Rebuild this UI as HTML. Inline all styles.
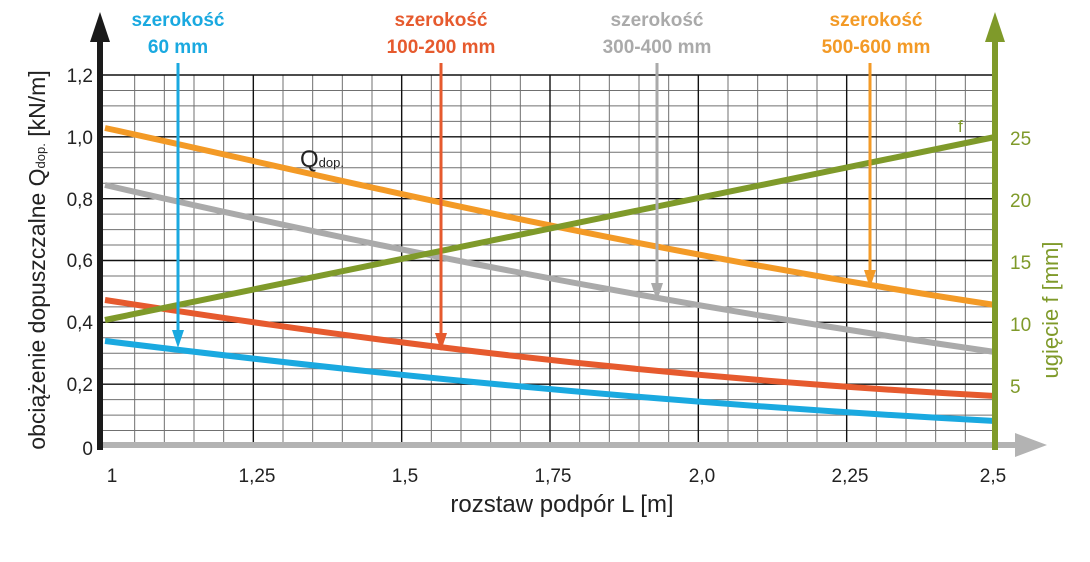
<!DOCTYPE html>
<html><head><meta charset="utf-8"><style>body{margin:0;background:#fff}svg{display:block}</style></head>
<body>
<svg width="1090" height="562" viewBox="0 0 1090 562" xmlns="http://www.w3.org/2000/svg" font-family="Liberation Sans, sans-serif">
<rect width="1090" height="562" fill="#fff"/>
<path stroke="#707070" stroke-width="1" fill="none" d="
M134.67,75V446 M164.33,75V446 M194,75V446 M223.67,75V446 M283,75V446 M312.67,75V446 M342.33,75V446 M372,75V446
M431.33,75V446 M461,75V446 M490.67,75V446 M520.33,75V446 M579.67,75V446 M609.33,75V446 M639,75V446 M668.67,75V446
M728,75V446 M757.67,75V446 M787.33,75V446 M817,75V446 M876.33,75V446 M906,75V446 M935.67,75V446 M965.33,75V446
M100,90.46H995 M100,105.92H995 M100,121.37H995 M100,152.29H995 M100,167.75H995 M100,183.21H995
M100,214.12H995 M100,229.58H995 M100,245.04H995 M100,275.96H995 M100,291.42H995 M100,306.87H995
M100,337.79H995 M100,353.25H995 M100,368.71H995 M100,399.62H995 M100,415.08H995 M100,430.54H995"/>
<path stroke="#111" stroke-width="1.4" fill="none" d="
M253.33,75V446 M401.67,75V446 M550,75V446 M698.33,75V446 M846.67,75V446
M100,75H995 M100,136.83H995 M100,198.67H995 M100,260.5H995 M100,322.33H995 M100,384.17H995"/>
<!-- x axis arrow -->
<line x1="100" y1="445" x2="1020" y2="445" stroke="#b3b3b3" stroke-width="6"/>
<polygon points="1015,433 1047,445 1015,457" fill="#b3b3b3"/>
<!-- curves -->
<path d="M105,128 C300,170 600,245 995,305" fill="none" stroke="#f39a26" stroke-width="6"/>
<path d="M105,185 C300,230 600,295 995,352" fill="none" stroke="#aaaaaa" stroke-width="6"/>
<path d="M105,300 C300,330 600,375 995,396" fill="none" stroke="#e65a2e" stroke-width="6"/>
<path d="M105,341 C300,365 600,400 995,421" fill="none" stroke="#1aa9e0" stroke-width="6"/>
<line x1="105" y1="320" x2="995" y2="137" stroke="#7f9a2a" stroke-width="6"/>
<!-- left axis -->
<line x1="100" y1="450" x2="100" y2="40" stroke="#1a1a1a" stroke-width="6"/>
<polygon points="90,42 100,12 110,42" fill="#1a1a1a"/>
<!-- right axis -->
<line x1="995" y1="450" x2="995" y2="40" stroke="#7f9a2a" stroke-width="6"/>
<polygon points="985,42 995,12 1005,42" fill="#7f9a2a"/>
<!-- label arrows -->
<g stroke-width="3">
<line x1="178" y1="63" x2="178" y2="335" stroke="#1aa9e0"/><polygon points="172,330 178,348 184,330" fill="#1aa9e0"/>
<line x1="441" y1="63" x2="441" y2="338" stroke="#e65a2e"/><polygon points="435,333 441,351 447,333" fill="#e65a2e"/>
<line x1="657" y1="63" x2="657" y2="288" stroke="#aaaaaa"/><polygon points="651,283 657,301 663,283" fill="#aaaaaa"/>
<line x1="870" y1="63" x2="870" y2="275" stroke="#f39a26"/><polygon points="864,270 870,288 876,270" fill="#f39a26"/>
</g>
<g font-weight="bold" font-size="19" text-anchor="middle">
<text x="178" y="26" fill="#1aa9e0">szerokość</text><text x="178" y="53" fill="#1aa9e0">60 mm</text>
<text x="441" y="26" fill="#e65a2e">szerokość</text><text x="441" y="53" fill="#e65a2e">100-200 mm</text>
<text x="657" y="26" fill="#aaaaaa">szerokość</text><text x="657" y="53" fill="#aaaaaa">300-400 mm</text>
<text x="876" y="26" fill="#f39a26">szerokość</text><text x="876" y="53" fill="#f39a26">500-600 mm</text>
</g>
<text x="300" y="167" font-size="24" fill="#222">Q<tspan font-size="13">dop.</tspan></text>
<text x="958" y="132" font-size="17" fill="#7f9a2a">f</text>
<g font-size="19" fill="#222" text-anchor="end">
<text x="93" y="82">1,2</text><text x="93" y="144">1,0</text><text x="93" y="206">0,8</text>
<text x="93" y="267">0,6</text><text x="93" y="329">0,4</text><text x="93" y="391">0,2</text><text x="93" y="455">0</text>
</g>
<g font-size="19" fill="#222" text-anchor="middle">
<text x="112" y="482">1</text><text x="257" y="482">1,25</text><text x="405" y="482">1,5</text>
<text x="553" y="482">1,75</text><text x="702" y="482">2,0</text><text x="850" y="482">2,25</text><text x="993" y="482">2,5</text>
</g>
<g font-size="19" fill="#7f9a2a">
<text x="1010" y="145">25</text><text x="1010" y="207">20</text><text x="1010" y="269">15</text>
<text x="1010" y="331">10</text><text x="1010" y="393">5</text>
</g>
<text x="562" y="512" font-size="24" fill="#222" text-anchor="middle">rozstaw podpór L [m]</text>
<text transform="translate(45,260) rotate(-90)" font-size="23" fill="#222" text-anchor="middle">obciążenie dopuszczalne Q<tspan font-size="13">dop.</tspan> [kN/m]</text>
<text transform="translate(1058,310) rotate(-90)" font-size="22" fill="#7f9a2a" text-anchor="middle">ugięcie f [mm]</text>
</svg>
</body></html>
